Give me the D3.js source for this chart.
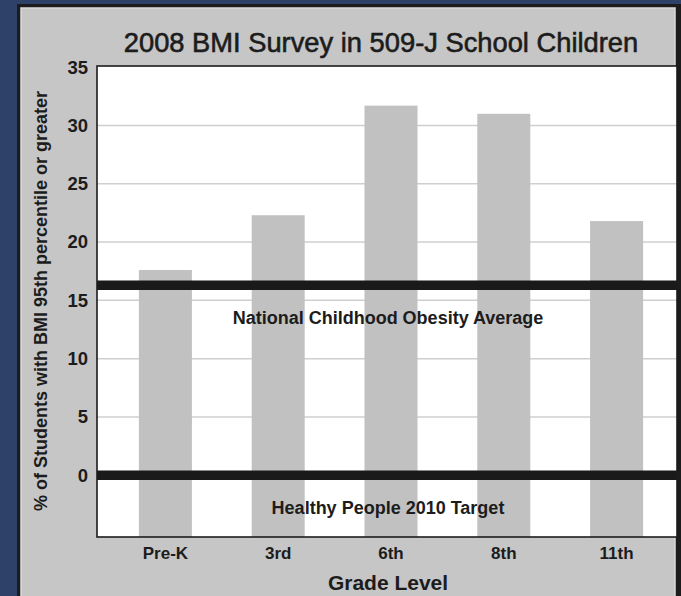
<!DOCTYPE html>
<html>
<head>
<meta charset="utf-8">
<script src="https://cdn.jsdelivr.net/npm/d3@7"></script>
<style>
  html, body { margin: 0; padding: 0; background: #2d4169; }
  svg { display: block; }
  text { font-family: "Liberation Sans", Arial, Helvetica, sans-serif; fill: #1c1c1c; }
</style>
</head>
<body>
<svg id="chart" width="681" height="596"></svg>
<script>
// Share of students at or above the 95th BMI percentile, by grade
const grades = ["Pre-K", "3rd", "6th", "8th", "11th"];
const percentAtRisk = [17.6, 22.3, 31.7, 31.0, 21.8];

// Reference levels drawn as heavy horizontal rules
const referenceNames = ["National Childhood Obesity Average", "Healthy People 2010 Target"];
const referenceValues = [16.3, 0];

const yTicks = [0, 5, 10, 15, 20, 25, 30, 35];

const titleText = "2008 BMI Survey in 509-J School Children";
const yTitleText = "% of Students with BMI 95th percentile or greater";
const xTitleText = "Grade Level";

const svg = d3.select("#chart");
const W = 681, H = 596;

// Background card
svg.append("rect").attr("x", 0).attr("y", 0).attr("width", W).attr("height", H).attr("fill", "#2d4169");
svg.append("rect").attr("x", 17).attr("y", 4).attr("width", 670).attr("height", 600)
  .attr("fill", "#1c1c1c");
svg.append("rect").attr("x", 21).attr("y", 8).attr("width", 654).attr("height", 600)
  .attr("fill", "#c6c6c6").attr("stroke", "#dadada").attr("stroke-width", 1.5);

const plot = { left: 97, right: 677, top: 66, bottom: 537 };

const y = d3.scaleLinear().domain([-5.3, 35.1]).range([plot.bottom, plot.top]);
const x = d3.scaleBand().domain(grades).range([109, 673]).paddingInner(0.53).paddingOuter(0.265);

// Plot area
svg.append("rect")
  .attr("x", plot.left).attr("y", plot.top)
  .attr("width", plot.right - plot.left).attr("height", plot.bottom - plot.top)
  .attr("fill", "#ffffff");

// Horizontal gridlines
svg.append("g").selectAll("line")
  .data(yTicks.filter(t => t > 0 && t < 35))
  .join("line")
  .attr("x1", plot.left).attr("x2", plot.right)
  .attr("y1", d => y(d)).attr("y2", d => y(d))
  .attr("stroke", "#cfcfcf").attr("stroke-width", 1.5);

// Bars rise from the bottom of the plot area
svg.append("g").selectAll("rect")
  .data(grades.map((g, i) => ({ grade: g, value: percentAtRisk[i] })))
  .join("rect")
  .attr("x", d => x(d.grade))
  .attr("width", x.bandwidth())
  .attr("y", d => y(d.value))
  .attr("height", d => y.range()[0] - y(d.value))
  .attr("fill", "#c1c1c1");

// Reference rules and their captions
const refs = referenceNames.map((n, i) => ({ name: n, value: referenceValues[i] }));
svg.append("g").selectAll("line")
  .data(refs)
  .join("line")
  .attr("x1", plot.left).attr("x2", plot.right)
  .attr("y1", d => y(d.value)).attr("y2", d => y(d.value))
  .attr("stroke", "#1a1a1a").attr("stroke-width", 9.5);

svg.append("g").selectAll("text")
  .data(refs)
  .join("text")
  .attr("x", 388)
  .attr("y", d => y(d.value) + 39)
  .attr("text-anchor", "middle")
  .attr("font-size", 18)
  .attr("font-weight", "bold")
  .text(d => d.name);

// Plot frame
svg.append("rect")
  .attr("x", plot.left).attr("y", plot.top)
  .attr("width", plot.right - plot.left).attr("height", plot.bottom - plot.top)
  .attr("fill", "none").attr("stroke", "#1c1c1c").attr("stroke-width", 1.6);

// Y axis tick labels
const yAxis = d3.axisLeft(y).tickValues(yTicks).tickSize(0).tickPadding(9);
const gy = svg.append("g").attr("transform", `translate(${plot.left},0)`).call(yAxis);
gy.select(".domain").remove();
gy.selectAll("text")
  .attr("font-size", 18.5).attr("font-weight", "bold")
  .attr("font-family", "Liberation Sans, Arial, sans-serif")
  .attr("fill", "#1c1c1c");

// X axis tick labels
const xAxis = d3.axisBottom(x).tickSize(0).tickPadding(10);
const gx = svg.append("g").attr("transform", `translate(0,${plot.bottom})`).call(xAxis);
gx.select(".domain").remove();
gx.selectAll("text")
  .attr("font-size", 17).attr("font-weight", "bold")
  .attr("font-family", "Liberation Sans, Arial, sans-serif")
  .attr("fill", "#1c1c1c");

// Titles
svg.append("text")
  .attr("x", 381).attr("y", 52)
  .attr("text-anchor", "middle")
  .attr("font-size", 27.3)
  .attr("stroke", "#1c1c1c").attr("stroke-width", 0.6)
  .text(titleText);

svg.append("text")
  .attr("transform", "translate(47,301) rotate(-90)")
  .attr("text-anchor", "middle")
  .attr("font-size", 18)
  .attr("font-weight", "bold")
  .text(yTitleText);

svg.append("text")
  .attr("x", 388).attr("y", 590)
  .attr("text-anchor", "middle")
  .attr("font-size", 21)
  .attr("font-weight", "bold")
  .text(xTitleText);
</script>
</body>
</html>
